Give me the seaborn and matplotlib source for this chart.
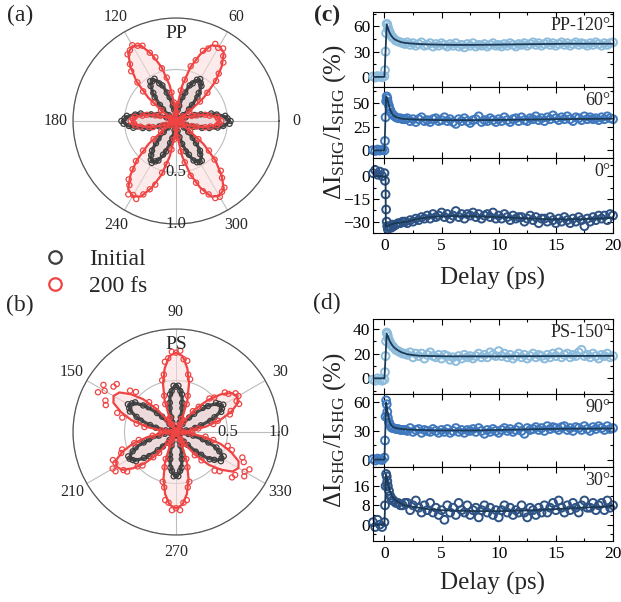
import numpy as np
import matplotlib
matplotlib.use('Agg')
import matplotlib.pyplot as plt
import seaborn as sns
from matplotlib.lines import Line2D
from matplotlib.ticker import MultipleLocator, AutoMinorLocator

sns.set_theme(style='white')
plt.rcParams['font.family'] = ['Liberation Serif', 'DejaVu Serif']
plt.rcParams['mathtext.fontset'] = 'custom'
plt.rcParams['mathtext.rm'] = 'Liberation Serif'
plt.rcParams['mathtext.it'] = 'Liberation Serif:italic'
plt.rcParams['mathtext.bf'] = 'Liberation Serif:bold'

# ---------------- polar data ----------------
fit_angles = list(range(0, 360, 5))      # degrees
data_angles = list(range(0, 360, 3))     # degrees

pp_initial_fit = [
    .52, .48, .39, .26, .13, .04, 0, .03, .12, .23, .35, .43,
    .46, .43, .35, .23, .12, .03, 0, .03, .12, .23, .35, .43,
    .46, .43, .35, .23, .12, .03, 0, .04, .13, .26, .39, .48,
    .52, .48, .39, .26, .13, .04, 0, .03, .12, .23, .35, .43,
    .46, .43, .35, .23, .12, .03, 0, .03, .12, .23, .35, .43,
    .46, .43, .35, .23, .12, .03, 0, .04, .13, .26, .39, .48]
pp_200fs_fit = [
    .43, .40, .32, .22, .11, .03, 0, .15, .35, .54, .69, .81,
    .84, .81, .69, .54, .35, .15, 0, .15, .35, .54, .69, .81,
    .84, .81, .69, .54, .35, .15, 0, .03, .11, .22, .32, .40,
    .43, .40, .32, .22, .11, .03, 0, .15, .35, .54, .69, .81,
    .84, .81, .69, .54, .35, .15, 0, .15, .35, .54, .69, .81,
    .84, .81, .69, .54, .35, .15, 0, .03, .11, .22, .32, .40]
ps_initial_fit = [
    0, .04, .13, .26, .39, .48, .52, .48, .39, .26, .13, .04,
    0, .03, .11, .23, .34, .42, .45, .42, .34, .23, .11, .03,
    0, .04, .13, .27, .40, .49, .53, .49, .40, .27, .13, .04,
    0, .04, .13, .26, .39, .48, .52, .48, .39, .26, .13, .04,
    0, .03, .11, .22, .32, .40, .43, .40, .32, .22, .11, .03,
    0, .04, .13, .26, .39, .48, .52, .48, .39, .26, .13, .04]
ps_200fs_fit = [
    0, .12, .29, .44, .57, .66, .69, .66, .57, .44, .29, .12,
    0, .14, .32, .49, .63, .74, .77, .74, .63, .49, .32, .14,
    0, .13, .29, .45, .57, .67, .70, .67, .57, .45, .29, .13,
    0, .12, .28, .43, .55, .64, .67, .64, .55, .43, .28, .12,
    0, .13, .31, .47, .61, .71, .74, .71, .61, .47, .31, .13,
    0, .13, .29, .45, .57, .67, .70, .67, .57, .45, .29, .13]

pp_initial_data = [
    .53, .50, .48, .40, .35, .25, .19, .10, .06, .02, .01, .02, .05, .09, .17, .22, .31, .35, .42, .44,
    .47, .45, .40, .37, .29, .24, .15, .11, .04, .02, .01, .02, .04, .11, .15, .24, .29, .37, .40, .46,
    .45, .46, .42, .35, .31, .22, .17, .09, .05, .02, .01, .02, .06, .10, .19, .25, .35, .40, .48, .50,
    .53, .51, .46, .42, .33, .27, .17, .12, .05, .02, .01, .01, .05, .10, .16, .24, .29, .37, .41, .45,
    .47, .44, .42, .35, .31, .22, .17, .09, .05, .01, .01, .02, .05, .10, .16, .23, .31, .35, .42, .45,
    .46, .46, .40, .37, .29, .23, .16, .10, .05, .02, .01, .02, .05, .11, .18, .26, .33, .41, .46, .52]
pp_200fs_data = [
    .44, .41, .40, .33, .29, .21, .16, .08, .05, .01, .01, .08, .16, .30, .41, .55, .62, .73, .78, .84,
    .82, .84, .77, .73, .62, .55, .41, .30, .16, .08, .01, .07, .18, .28, .43, .53, .65, .71, .80, .82,
    .85, .82, .80, .71, .65, .53, .43, .28, .18, .06, .01, .01, .05, .08, .16, .21, .29, .33, .40, .42,
    .44, .41, .40, .35, .27, .23, .14, .10, .04, .01, .01, .07, .18, .28, .43, .55, .63, .73, .77, .85,
    .83, .85, .78, .71, .65, .52, .43, .28, .18, .06, .01, .08, .16, .30, .41, .55, .63, .73, .78, .84,
    .85, .82, .80, .71, .65, .53, .43, .28, .17, .07, .01, .01, .04, .09, .16, .21, .29, .34, .40, .42]
ps_initial_data = [
    .01, .02, .06, .10, .19, .25, .35, .40, .48, .50, .53, .50, .48, .40, .35, .25, .19, .10, .06, .02,
    .01, .02, .04, .10, .15, .24, .29, .37, .40, .45, .44, .45, .40, .37, .29, .24, .15, .10, .05, .02,
    .01, .02, .06, .10, .20, .26, .36, .41, .49, .51, .54, .51, .49, .41, .36, .26, .20, .10, .06, .02,
    .01, .01, .06, .11, .17, .27, .33, .42, .46, .52, .52, .50, .48, .40, .35, .25, .19, .10, .06, .01,
    .01, .02, .04, .10, .14, .23, .27, .35, .38, .43, .42, .43, .38, .35, .27, .23, .14, .10, .04, .02,
    .01, .01, .05, .12, .17, .27, .33, .42, .46, .52, .51, .52, .46, .42, .33, .27, .17, .12, .05, .01]
ps_200fs_data = [
    .01, .05, .16, .22, .37, .42, .55, .57, .67, .66, .70, .69, .63, .61, .50, .46, .33, .26, .13, .07,
    .02, .08, .14, .29, .37, .53, .57, .70, .71, .79, .77, .78, .72, .69, .57, .52, .37, .29, .15, .08,
    .02, .09, .14, .31, .39, .55, .60, .74, .75, .84, .80, .85, .75, .73, .60, .54, .39, .31, .14, .09,
    .02, .05, .15, .23, .37, .42, .55, .57, .67, .66, .71, .70, .63, .61, .50, .46, .33, .26, .13, .07,
    .02, .08, .13, .28, .36, .50, .55, .67, .69, .76, .74, .76, .69, .67, .55, .50, .36, .28, .13, .08,
    .02, .08, .14, .29, .37, .53, .57, .70, .71, .79, .77, .80, .72, .69, .57, .52, .37, .29, .15, .08]

# ---------------- time-resolved data ----------------
delays = [-1.0, -0.8, -0.6, -0.4, -0.2, 0.0, 0.05, 0.1, 0.15, 0.2, 0.25, 0.3, 0.4, 0.5, 0.6, 0.7, 0.8,
          1.0, 1.2, 1.4, 1.6, 1.8,
          2, 2.25, 2.5, 2.75, 3, 3.25, 3.5, 3.75, 4, 4.25, 4.5, 4.75, 5, 5.25, 5.5, 5.75,
          6, 6.25, 6.5, 6.75, 7, 7.25, 7.5, 7.75, 8, 8.25, 8.5, 8.75, 9, 9.25, 9.5, 9.75,
          10, 10.25, 10.5, 10.75, 11, 11.25, 11.5, 11.75, 12, 12.25, 12.5, 12.75,
          13, 13.25, 13.5, 13.75, 14, 14.25, 14.5, 14.75, 15, 15.25, 15.5, 15.75,
          16, 16.25, 16.5, 16.75, 17, 17.25, 17.5, 17.75, 18, 18.25, 18.5, 18.75,
          19, 19.25, 19.5, 19.75, 20]

pp120_data = [0.5, -0.8, 1.0, 0.2, -0.5, 0.8, 8, 30, 52, 63, 62, 59, 55, 52, 49, 47, 46, 43, 42, 41, 40, 39,
              41, 38, 40, 37, 39, 41, 37, 38, 40, 36, 39, 37, 40, 38, 36, 39, 37, 40, 36, 38,
              35, 39, 37, 40, 36, 38, 37, 39, 36, 38, 40, 37, 38, 36, 39, 37, 40, 38, 36, 39,
              38, 40, 37, 39, 41, 38, 40, 37, 39, 41, 38, 40, 37, 39, 41, 38, 40, 37, 39, 41,
              38, 40, 39, 37, 40, 38, 41, 39, 37, 40, 38, 40, 41]
pp60_data = [0.3, -0.6, 0.9, -0.2, 0.5, 0.0, 10, 35, 52, 57, 55, 51, 47, 43, 40, 38, 37, 35, 34, 34, 33, 33,
             34, 31, 33, 30, 33, 35, 31, 32, 30, 33, 34, 31, 32, 35, 31, 33, 30, 28, 33, 31,
             34, 31, 29, 32, 33, 36, 30, 32, 31, 34, 32, 30, 33, 31, 35, 32, 30, 33, 34, 31,
             35, 32, 31, 34, 33, 36, 32, 34, 31, 35, 33, 37, 34, 32, 35, 33, 36, 33, 31, 35,
             34, 32, 36, 33, 35, 33, 34, 32, 35, 33, 36, 34, 33]
pp0_data = [2, 4, 1, 3, 0, 2, -3, -12, -22, -30, -33, -35, -34, -33, -34, -32, -33, -32, -31, -31, -30, -30,
            -31, -29, -30, -28, -29, -27, -28, -26, -28, -25, -27, -26, -24, -27, -25, -28,
            -26, -23, -27, -25, -28, -25, -26, -24, -27, -25, -28, -26, -25, -27, -24, -28,
            -26, -28, -25, -27, -29, -26, -28, -27, -27, -30, -28, -26, -29, -27, -31, -28,
            -28, -30, -27, -29, -31, -28, -30, -27, -29, -31, -28, -30, -27, -29, -33, -28,
            -30, -27, -29, -26, -28, -26, -29, -25, -26]
ps150_data = [-1, -2, 0, -1, -2, -1, 5, 18, 30, 37, 36, 34, 31, 29, 27, 26, 25, 23, 22, 21, 20, 20,
              19, 21, 17, 20, 18, 20, 16, 19, 21, 18, 17, 19, 16, 19, 18, 15, 17, 14, 18, 16,
              19, 17, 18, 16, 18, 20, 17, 19, 17, 21, 19, 18, 22, 18, 20, 17, 19, 16, 18, 20,
              17, 19, 16, 18, 20, 17, 19, 18, 16, 19, 17, 20, 18, 21, 17, 19, 20, 17, 19, 18,
              21, 23, 18, 19, 17, 20, 18, 16, 19, 18, 20, 17, 18]
ps90_data = [0.5, -1, 1, 0, -0.5, 2, 20, 45, 62, 58, 50, 44, 39, 36, 34, 33, 33, 32, 32, 31, 31, 31,
             30, 33, 29, 31, 32, 28, 31, 30, 29, 32, 30, 28, 31, 29, 32, 28, 30, 33, 29, 31,
             28, 31, 30, 32, 29, 33, 30, 27, 31, 29, 32, 30, 28, 31, 33, 30, 32, 29, 31, 34,
             30, 27, 33, 31, 32, 34, 31, 33, 30, 35, 32, 34, 33, 31, 34, 35, 31, 33, 30, 34,
             33, 31, 35, 32, 30, 34, 32, 35, 33, 31, 35, 32, 33]
ps30_data = [1, -1, 2, 0, -1, 1, 8, 16, 21, 20, 18, 16, 14, 12, 11, 10, 10, 9, 9, 8, 8, 9,
             9, 6, 8, 10, 7, 5, 8, 6, 9, 5, 7, 4, 6, 2, 8, 5, 7, 4, 9, 6,
             5, 8, 4, 6, 7, 3, 6, 8, 5, 7, 4, 6, 3, 6, 8, 5, 7, 4, 6, 5,
             8, 5, 3, 7, 6, 4, 7, 5, 8, 5, 7, 9, 6, 10, 7, 5, 8, 6, 9, 7,
             5, 8, 10, 7, 7, 9, 6, 8, 9, 6, 10, 7, 8]

fit_delays_a = [-1, 0, 0.2, 0.3, 0.4, 0.5, 0.7, 0.9, 1.2, 1.5, 2, 2.5, 3, 4, 5, 6, 8, 10, 12, 14, 16, 18, 20]
pp120_fit = [0, 0, 62, 58, 54, 51, 47, 44.5, 42.5, 41, 40, 39.5, 39, 38.5, 38.2, 38, 38, 38.3, 38.7, 39, 39.3, 39.3, 39.3]
fit_delays_b = [-1, 0, 0.15, 0.3, 0.4, 0.5, 0.7, 0.9, 1.2, 1.5, 2, 3, 5, 8, 10, 12, 15, 20]
pp60_fit = [0, 0, 57, 52, 47, 43, 38, 36, 34.5, 33.5, 33, 32.5, 32, 32, 32.2, 32.5, 33, 33.5]
fit_delays_c = [-1, 0.1, 0.12, 0.3, 0.5, 1, 2, 3, 4, 5, 6, 8, 10, 12, 14, 16, 18, 20]
pp0_fit = [0, 0, -33, -33, -32, -31, -30, -28, -27, -26.5, -26.3, -26.5, -27, -27.7, -28.3, -28.5, -28.2, -27.5]
fit_delays_d = [-1, 0, 0.2, 0.3, 0.4, 0.5, 0.7, 0.9, 1.2, 1.5, 2, 2.5, 3, 4, 6, 10, 15, 20]
ps150_fit = [0, 0, 36, 34, 31.5, 29.5, 26.5, 24.5, 22.5, 21, 19.5, 18.8, 18.3, 18, 17.8, 17.8, 18, 18.2]
fit_delays_e = [-1, 0, 0.15, 0.25, 0.35, 0.5, 0.7, 1, 1.5, 2, 3, 5, 8, 10, 12, 14, 16, 20]
ps90_fit = [0, 0, 60, 52, 44, 38, 34.5, 33, 32, 31.5, 31, 30.5, 30.5, 31, 31.5, 32, 32.3, 32.5]
fit_delays_f = [-1, 0, 0.15, 0.25, 0.35, 0.5, 0.7, 1, 1.5, 2, 3, 4, 5, 6, 8, 10, 12, 14, 16, 18, 20]
ps30_fit = [0, 0, 21, 18.5, 16, 13.5, 11.5, 10, 8.5, 7.8, 7, 6.3, 6, 5.8, 5.6, 5.6, 5.8, 6.2, 6.7, 7.2, 7.5]

# ---------------- styling ----------------
C_INIT = '#3d3d3d'
C_INIT_LINE = '#4a4a4a'
C_INIT_FILL = '#d9d4d4'
C_RED = '#ef4444'
C_RED_FILL = '#fcdcdc'
C_LIGHT = '#8dbcdc'
C_MID = '#3f78bd'
C_DARK = '#2d5283'
C_FIT = '#1c3a55'

W, H = 621, 602
fig = plt.figure(figsize=(W / 100, H / 100), dpi=100)


def px_rect(l, t, r, b):
    return [l / W, 1 - b / H, (r - l) / W, (b - t) / H]


def closed(angles, vals):
    th = np.deg2rad(np.r_[angles, 360])
    return th, np.r_[vals, vals[0]]


def polar_panel(rect, init_fit, red_fit, init_data, red_data, grids, labels, rlabel_deg, title):
    ax = fig.add_axes(rect, projection='polar')
    th_i, r_i = closed(fit_angles, init_fit)
    th_r, r_r = closed(fit_angles, red_fit)
    ax.fill(th_i, r_i, color=C_INIT_FILL, alpha=0.9, zorder=1, lw=0)
    ax.fill(th_r, r_r, color=C_RED_FILL, alpha=0.55, zorder=1.5, lw=0)
    dth = np.deg2rad(data_angles)
    sns.lineplot(x=th_i, y=r_i, ax=ax, color=C_INIT_LINE, lw=2.4, sort=False, estimator=None, zorder=2.8)
    sns.scatterplot(x=dth, y=init_data, ax=ax, s=14, marker='o', facecolor='none',
                    edgecolor=C_INIT, linewidth=0.9, zorder=3)
    sns.scatterplot(x=dth, y=red_data, ax=ax, s=14, marker='o', facecolor='none',
                    edgecolor=C_RED, linewidth=0.9, zorder=4)
    sns.lineplot(x=th_r, y=r_r, ax=ax, color=C_RED, lw=1.6, sort=False, estimator=None, zorder=4.5)
    ax.set_ylim(0, 1)
    ax.set_rticks([0.5, 1.0])
    ax.set_yticklabels([])
    ax.set_thetagrids(grids, [''] * len(grids))
    ax.grid(True, color='#bdbdbd', lw=0.8)
    ax.spines['polar'].set_color('#555555')
    ax.spines['polar'].set_linewidth(0.9)
    ax.set_xlabel('')
    ax.set_ylabel('')
    for g, lab in zip(grids, labels):
        if lab:
            ax.text(np.deg2rad(g), 1.165, lab, ha='center', va='center', fontsize=11.5, clip_on=False)
    for rv in (0.5, 1.0):
        ax.text(np.deg2rad(rlabel_deg), rv, f'{rv:.1f}', ha='center', va='center', fontsize=12,
                zorder=10, clip_on=False)
    ax.text(0.5, 0.925, title, transform=ax.transAxes, ha='center', va='center', fontsize=14, zorder=6)
    return ax


polar_panel(px_rect(73, 18, 279, 224), pp_initial_fit, pp_200fs_fit, pp_initial_data, pp_200fs_data,
            [0, 60, 120, 180, 240, 270, 300], ['0', '60', '120', '180', '240', '', '300'], 270, 'PP')
polar_panel(px_rect(73, 329, 279, 535), ps_initial_fit, ps_200fs_fit, ps_initial_data, ps_200fs_data,
            [0, 30, 90, 150, 210, 270, 330], ['', '30', '90', '150', '210', '270', '330'], 0, 'PS')

handles = [Line2D([], [], ls='', marker='o', ms=9, mfc='none', mec=C_INIT, mew=1.6),
           Line2D([], [], ls='', marker='o', ms=9, mfc='none', mec=C_RED, mew=1.6)]
fig.legend(handles, ['Initial', '200 fs'], loc='upper left', bbox_to_anchor=(34 / W, 1 - 239 / H),
           frameon=False, fontsize=17, handlelength=1.0, handletextpad=0.95, labelspacing=0.25,
           borderaxespad=0)


def trace_panel(rect, data, fit_t, fit_y, color, ylim, yticks, label, show_x):
    ax = fig.add_axes(rect)
    sns.scatterplot(x=delays, y=data, ax=ax, s=32, marker='o', facecolor='none',
                    edgecolor=color, linewidth=1.4, zorder=2, clip_on=False)
    sns.lineplot(x=fit_t, y=fit_y, ax=ax, color=C_FIT, lw=1.3, sort=False, estimator=None, zorder=3)
    ax.set_xlim(-1, 20)
    ax.set_ylim(*ylim)
    ax.set_yticks(yticks)
    ax.xaxis.set_major_locator(MultipleLocator(5))
    ax.xaxis.set_minor_locator(MultipleLocator(2.5))
    ax.yaxis.set_minor_locator(AutoMinorLocator(2))
    ax.tick_params(which='both', direction='in', top=True, right=True, bottom=True, left=True,
                   labelsize=12.5, colors='black')
    ax.tick_params(which='major', length=4, width=0.8)
    ax.tick_params(which='minor', length=2.2, width=0.8)
    ax.tick_params(axis='y', pad=2)
    if not show_x:
        ax.tick_params(labelbottom=False)
    for s in ax.spines.values():
        s.set_color('black')
        s.set_linewidth(0.8)
    ax.set_xlabel('')
    ax.set_ylabel('')
    ax.text(0.99, 0.93, label, transform=ax.transAxes, ha='right', va='top', fontsize=13)
    return ax


trace_panel(px_rect(373, 12, 613, 87), pp120_data, fit_delays_a, pp120_fit, C_LIGHT, (-12, 77), [0, 30, 60], 'PP-120°', False)
trace_panel(px_rect(373, 87, 613, 158), pp60_data, fit_delays_b, pp60_fit, C_MID, (-8, 67), [0, 25, 50], '60°', False)
trace_panel(px_rect(373, 158, 613, 233), pp0_data, fit_delays_c, pp0_fit, C_DARK, (-37.5, 12), [-30, -15, 0], '0°', True)

trace_panel(px_rect(373, 319, 613, 394), ps150_data, fit_delays_d, ps150_fit, C_LIGHT, (-12.7, 48), [0, 20, 40], 'PS-150°', False)
trace_panel(px_rect(373, 394, 613, 467), ps90_data, fit_delays_e, ps90_fit, C_MID, (-7.8, 68.7), [0, 30, 60], '90°', False)
trace_panel(px_rect(373, 467, 613, 541), ps30_data, fit_delays_f, ps30_fit, C_DARK, (-6.8, 23.9), [0, 8, 16], '30°', True)

ylab = r'$\Delta\mathrm{I}_{\mathrm{SHG}}/\mathrm{I}_{\mathrm{SHG}}$ (%)'
fig.text(335 / W, 1 - 122 / H, ylab, rotation=90, ha='center', va='center', fontsize=18)
fig.text(335 / W, 1 - 430 / H, ylab, rotation=90, ha='center', va='center', fontsize=18)
fig.text(493 / W, 1 - 278 / H, 'Delay (ps)', ha='center', va='center', fontsize=18)
fig.text(493 / W, 1 - 583 / H, 'Delay (ps)', ha='center', va='center', fontsize=18)

fig.text(20 / W, 1 - 15 / H, '(a)', ha='center', va='center', fontsize=17)
fig.text(20 / W, 1 - 305 / H, '(b)', ha='center', va='center', fontsize=17)
fig.text(327 / W, 1 - 15 / H, '(c)', ha='center', va='center', fontsize=17, fontweight='bold')
fig.text(327 / W, 1 - 303 / H, '(d)', ha='center', va='center', fontsize=17)

fig.savefig('out.png', dpi=100)
